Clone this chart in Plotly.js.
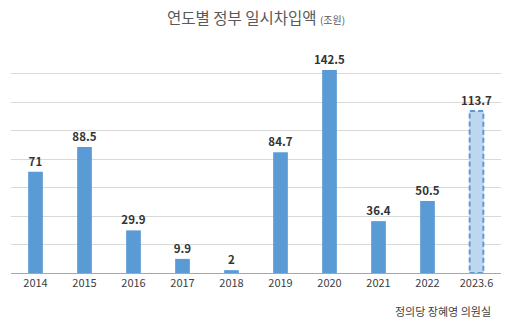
<!DOCTYPE html>
<html><head><meta charset="utf-8">
<script src="https://cdn.plot.ly/plotly-3.0.1.min.js"></script>
<style>html,body{margin:0;padding:0;background:#fff;}#chart{width:512px;height:329px;}</style>
</head><body><div id="chart"></div>
<script>
const categories = ['2014','2015','2016','2017','2018','2019','2020','2021','2022','2023.6'];
const values = [71, 88.5, 29.9, 9.9, 2, 84.7, 142.5, 36.4, 50.5, 113.7];
const labels = ['71','88.5','29.9','9.9','2','84.7','142.5','36.4','50.5','113.7'];
const partialIndex = 9;

const font = '"Noto Sans CJK KR", "Noto Sans", sans-serif';
const barW = 0.3;
const colors = values.map((v,i) => i === partialIndex ? '#bdd7ee' : '#5b9bd5');

const trace = {
  type: 'bar',
  x: categories,
  y: values,
  width: barW,
  marker: {color: colors, line: {width: 0}},
  text: labels,
  textposition: 'outside',
  constraintext: 'none',
  cliponaxis: false,
  textfont: {family: font, size: 11.5, color: '#333333', weight: 600},
  hoverinfo: 'none'
};

const shapes = [{
  type: 'rect', xref: 'x', yref: 'y',
  x0: partialIndex - barW/2 + 0.01, x1: partialIndex + barW/2 - 0.01,
  y0: 0, y1: values[partialIndex],
  line: {color: '#5b9bd5', width: 2, dash: '5px,3px'},
  fillcolor: 'rgba(0,0,0,0)'
}];

const layout = {
  width: 512, height: 329,
  margin: {l: 11, r: 11, t: 45, b: 56},
  paper_bgcolor: '#fff', plot_bgcolor: '#fff',
  title: {
    text: '연도별 정부 일시차입액 <span style="font-size:10px">(조원)</span>',
    font: {family: font, size: 15.5, color: '#595959'},
    x: 0.5, xanchor: 'center', y: 0.945, yref: 'container', yanchor: 'middle'
  },
  xaxis: {
    type: 'category',
    tickfont: {family: font, size: 11, color: '#404040'},
    showgrid: false, showline: true, linecolor: '#a6a6a6', linewidth: 1,
    ticks: '', fixedrange: true
  },
  yaxis: {
    range: [0, 160], dtick: 20, showticklabels: false,
    gridcolor: '#d9d9d9', gridwidth: 1, zeroline: false, fixedrange: true
  },
  shapes: shapes,
  annotations: [{
    text: '정의당 장혜영 의원실', xref: 'paper', yref: 'paper',
    x: 0.983, y: -0.168, xanchor: 'right', yanchor: 'middle', showarrow: false,
    font: {family: font, size: 11, color: '#404040'}
  }],
  showlegend: false, bargap: 0.7
};

Plotly.newPlot('chart', [trace], layout, {displayModeBar: false, staticPlot: true});
</script></body></html>
